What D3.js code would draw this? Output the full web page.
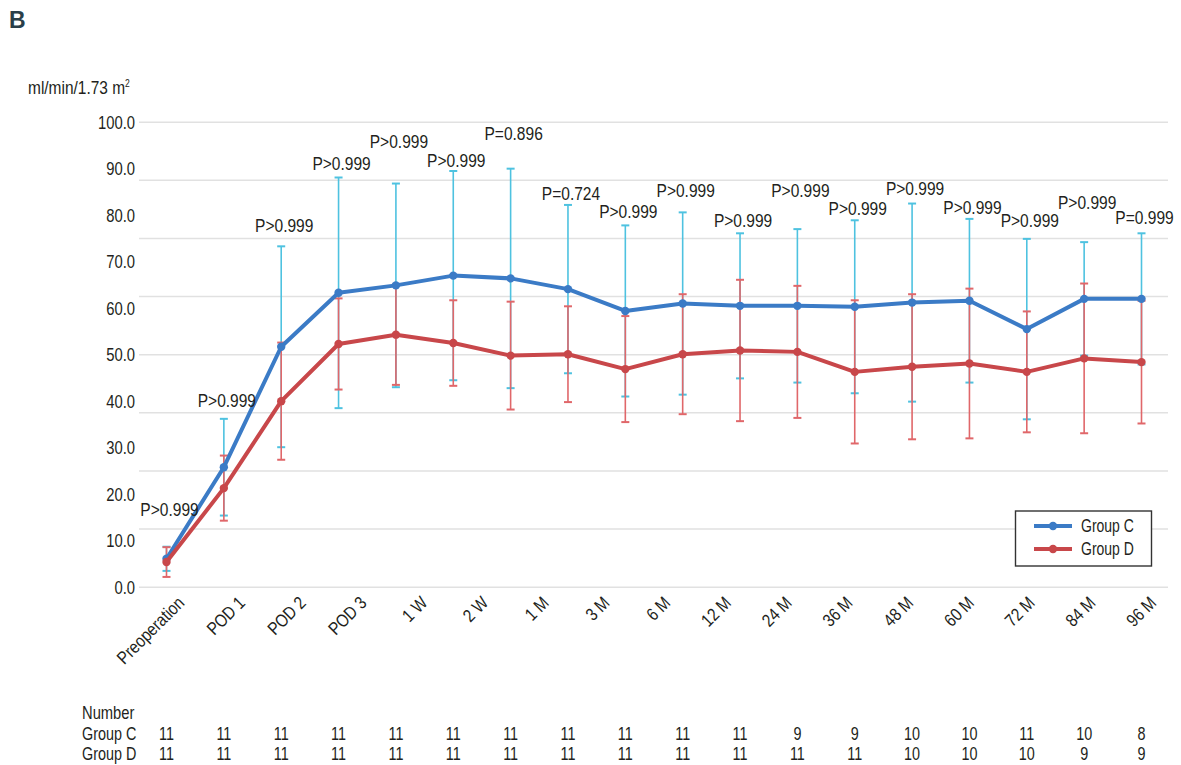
<!DOCTYPE html>
<html>
<head>
<meta charset="utf-8">
<script src="https://cdn.jsdelivr.net/npm/d3@7"></script>
<style>
  html, body { margin: 0; padding: 0; background: #fff; }
  svg { display: block; }
  text { font-family: "Liberation Sans", Arial, sans-serif; fill: #231f20; }
</style>
</head>
<body>
<svg id="chart" width="1181" height="765"></svg>
<script>
// Time points shown on the x axis
const timeLabels = ["Preoperation", "POD 1", "POD 2", "POD 3", "1 W", "2 W", "1 M", "3 M", "6 M",
  "12 M", "24 M", "36 M", "48 M", "60 M", "72 M", "84 M", "96 M"];

// eGFR (ml/min/1.73 m2), mean and SD per measurement
const groupCMean = [6.0, 25.7, 51.6, 63.2, 64.8, 66.9, 66.3, 64.0, 59.3, 60.9, 60.4, 60.4, 60.2, 61.1, 61.5, 55.4, 61.9, 61.9];
const groupCSD   = [2.6, 10.4, 21.6, 24.8, 21.9, 22.5, 23.6, 18.1, 18.4, 19.6, 15.6, 16.5, 18.6, 21.3, 17.6, 19.4, 12.2, 14.1];
const groupDMean = [5.3, 21.2, 39.9, 52.2, 54.2, 52.4, 49.7, 50.0, 46.8, 50.0, 50.8, 50.5, 46.2, 47.3, 48.0, 46.2, 49.1, 48.3];
const groupDSD   = [3.2, 7.0, 12.6, 9.8, 10.8, 9.2, 11.6, 10.3, 11.4, 12.9, 15.2, 14.2, 15.4, 15.6, 16.1, 13.0, 16.1, 13.2];

// Between-group comparison at each measurement
const pValues = ["P>0.999", "P>0.999", "P>0.999", "P>0.999", "P>0.999", "P>0.999", "P=0.896", "P=0.724", "P>0.999",
  "P>0.999", "P>0.999", "P>0.999", "P>0.999", "P>0.999", "P>0.999", "P>0.999", "P>0.999", "P=0.999"];
// Height on the eGFR axis where each P annotation rests
const pLabelAt = [15.1, 38.7, 76.3, 89.6, 94.4, 90.3, 96.1, 83.2, 79.2, 83.7, 77.3, 83.7, 79.9, 84.2, 80.1, 77.3, 81.2, 78.0];

// Patients at each measurement
const nGroupC = [11, 11, 11, 11, 11, 11, 11, 11, 11, 11, 11, 9, 9, 10, 10, 11, 10, 8];
const nGroupD = [11, 11, 11, 11, 11, 11, 11, 11, 11, 11, 11, 11, 11, 10, 10, 10, 9, 9];

const yTickValues = d3.range(0, 100.01, 10);
const gridValues = d3.range(0, 100.01, 12.5);

const series = [
  { name: "Group C", mean: groupCMean, sd: groupCSD, line: "#3b7bc6", bar: "#4ec2e0" },
  { name: "Group D", mean: groupDMean, sd: groupDSD, line: "#c8474a", bar: "#e0676a" }
];

// Condensed lettering: squeeze each text horizontally about its own anchor
function narrow(sel, sx) {
  sel.each(function () {
    const t = d3.select(this);
    const tx = +t.attr("x") || 0, ty = +t.attr("y") || 0;
    const prev = t.attr("transform") || "";
    t.attr("x", 0).attr("y", 0)
      .attr("transform", `translate(${tx},${ty}) ${prev} scale(${sx},1)`);
  });
}

const svg = d3.select("#chart");
svg.append("rect").attr("width", 1181).attr("height", 765).attr("fill", "#fff");

const y = d3.scaleLinear().domain([0, 100]).range([586.7, 121.7]);
const x = d3.scalePoint().domain(d3.range(groupCMean.length)).range([166.5, 1141.5]);
const xLabel = d3.scalePoint().domain(timeLabels).range([185, 1157]);

// Panel letter
svg.append("text").attr("x", 9).attr("y", 28)
  .style("font-weight", "bold").style("font-size", "23px").style("fill", "#2a3f49")
  .text("B");

// Unit title
const unit = svg.append("text").attr("x", 28).attr("y", 94).style("font-size", "18px");
unit.append("tspan").text("ml/min/1.73 m");
unit.append("tspan").attr("dy", -7).style("font-size", "10px").text("2");
narrow(unit, 0.86);

// Horizontal gridlines
const grid = svg.append("g").attr("transform", "translate(139,0)")
  .call(d3.axisLeft(y).tickValues(gridValues).tickSize(-(1168 - 139)).tickFormat(""));
grid.select(".domain").remove();
grid.selectAll(".tick line").attr("stroke", "#e1e1e1").attr("stroke-width", 1.5);

// Value labels
const yAxis = svg.append("g").attr("transform", "translate(135,0)")
  .call(d3.axisLeft(y).tickValues(yTickValues).tickSize(0).tickPadding(0).tickFormat(d3.format(".1f")));
yAxis.select(".domain").remove();
yAxis.selectAll("text").attr("font-family", null).style("font-size", "18.5px").style("fill", "#231f20")
  .attr("dy", "0.36em");
narrow(yAxis.selectAll("text"), 0.8);

// Time-point labels
const xAxis = svg.append("g").attr("transform", "translate(0,604)")
  .call(d3.axisBottom(xLabel).tickSize(0).tickPadding(0));
xAxis.select(".domain").remove();
xAxis.selectAll("text").attr("font-family", null)
  .style("font-size", "18px").style("fill", "#231f20")
  .attr("text-anchor", "end").attr("dy", 0).attr("y", 0)
  .attr("transform", "rotate(-45)");
narrow(xAxis.selectAll("text"), 0.84);

// Error bars (mean ± SD)
const cap = 4;
series.forEach(s => {
  const g = svg.append("g").attr("stroke", s.bar).attr("stroke-width", 1.6).attr("fill", "none");
  s.mean.forEach((m, i) => {
    const xi = x(i), lo = y(m - s.sd[i]), hi = y(m + s.sd[i]);
    g.append("line").attr("x1", xi).attr("x2", xi).attr("y1", lo).attr("y2", hi);
    g.append("line").attr("x1", xi - cap).attr("x2", xi + cap).attr("y1", lo).attr("y2", lo).attr("stroke-width", 2);
    g.append("line").attr("x1", xi - cap).attr("x2", xi + cap).attr("y1", hi).attr("y2", hi).attr("stroke-width", 2);
  });
});

// Mean lines with markers
const line = d3.line().x((d, i) => x(i)).y(d => y(d));
series.forEach(s => {
  svg.append("path").datum(s.mean)
    .attr("d", line).attr("fill", "none")
    .attr("stroke", s.line).attr("stroke-width", 4)
    .attr("stroke-linejoin", "round").attr("stroke-linecap", "round");
  svg.append("g").selectAll("circle").data(s.mean).join("circle")
    .attr("cx", (d, i) => x(i)).attr("cy", d => y(d)).attr("r", 4.2)
    .attr("fill", s.line);
});

// P annotations
const pText = svg.append("g").selectAll("text").data(pValues).join("text")
  .attr("x", (d, i) => x(i) + 3)
  .attr("y", (d, i) => y(pLabelAt[i]))
  .attr("text-anchor", "middle")
  .style("font-size", "18.5px")
  .text(d => d);
narrow(pText, 0.84);

// Legend
const legend = svg.append("g");
legend.append("rect").attr("x", 1015.5).attr("y", 511).attr("width", 136).attr("height", 55)
  .attr("fill", "#fff").attr("stroke", "#333").attr("stroke-width", 1.4);
series.forEach((s, k) => {
  const ly = 526 + k * 23;
  legend.append("line").attr("x1", 1034).attr("x2", 1072).attr("y1", ly).attr("y2", ly)
    .attr("stroke", s.line).attr("stroke-width", 4);
  legend.append("circle").attr("cx", 1053).attr("cy", ly).attr("r", 4.2).attr("fill", s.line);
  const lt = legend.append("text").attr("x", 1081).attr("y", ly).attr("dy", "0.36em")
    .style("font-size", "17.5px").text(s.name);
  narrow(lt, 0.8);
});

// Patient counts
const table = svg.append("g").style("font-size", "18px");
narrow(table.append("text").attr("x", 82).attr("y", 719).text("Number"), 0.82);
[["Group C", nGroupC, 740], ["Group D", nGroupD, 760]].forEach(([name, counts, ty]) => {
  narrow(table.append("text").attr("x", 82).attr("y", ty).text(name), 0.8);
  const cells = table.append("g").selectAll("text").data(counts).join("text")
    .attr("x", (d, i) => x(i)).attr("y", ty)
    .attr("text-anchor", "middle").text(d => d);
  narrow(cells, 0.8);
});
</script>
</body>
</html>
